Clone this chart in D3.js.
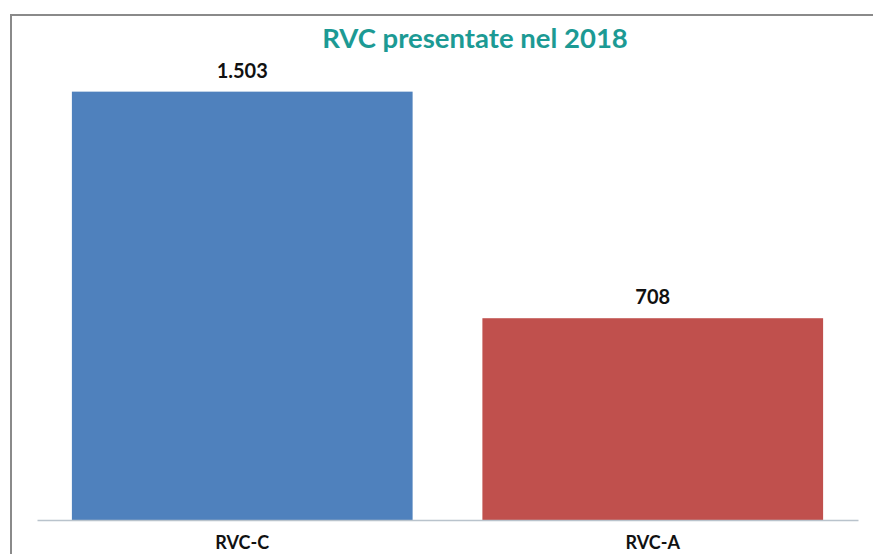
<!DOCTYPE html>
<html>
<head>
<meta charset="utf-8">
<script src="https://cdn.jsdelivr.net/npm/d3@7"></script>
<style>
  html, body { margin: 0; padding: 0; background: #fff; }
  svg { display: block; }
</style>
</head>
<body>
<script>
// Chart data
const categories = ["RVC-C", "RVC-A"];
const values = [1503, 708];
const valueLabels = ["1.503", "708"];
const barColors = ["#4f81bd", "#c0504d"];
const titleText = "RVC presentate nel 2018";

const W = 873, H = 554;
const svg = d3.select("body").append("svg").attr("width", W).attr("height", H);

// outer chart frame (continues past the right and bottom edge)
svg.append("path")
  .attr("d", `M11,${H + 5} L11,15 L${W + 5},15`)
  .attr("fill", "none")
  .attr("stroke", "#8a8a8a")
  .attr("stroke-width", 2);

const plot = { left: 37, right: 858, top: 64, bottom: 520 };

const x = d3.scaleBand()
  .domain(categories)
  .range([plot.left, plot.right])
  .paddingInner(0.17)
  .paddingOuter(0.085);

const y = d3.scaleLinear()
  .domain([0, 1600])
  .range([plot.bottom, plot.top]);

const font = "Lato, 'Open Sans', sans-serif";

// title
svg.append("text")
  .attr("x", 475)
  .attr("y", 48)
  .attr("text-anchor", "middle")
  .attr("font-family", font)
  .attr("font-weight", "bold")
  .attr("font-size", 27.5)
  .attr("fill", "#1c9a94")
  .text(titleText);

// bars
svg.selectAll("rect.bar")
  .data(values)
  .join("rect")
  .attr("class", "bar")
  .attr("x", (d, i) => x(categories[i]))
  .attr("y", d => y(d))
  .attr("width", x.bandwidth())
  .attr("height", d => y(0) - y(d))
  .attr("fill", (d, i) => barColors[i]);

// value labels
svg.selectAll("text.val")
  .data(values)
  .join("text")
  .attr("class", "val")
  .attr("x", (d, i) => x(categories[i]) + x.bandwidth() / 2)
  .attr("y", d => y(d) - 14)
  .attr("text-anchor", "middle")
  .attr("font-family", font)
  .attr("font-weight", "bold")
  .attr("font-size", 20)
  .attr("fill", "#111")
  .text((d, i) => valueLabels[i]);

// category axis
const xAxis = svg.append("g")
  .attr("transform", `translate(0,${plot.bottom})`)
  .call(d3.axisBottom(x).tickSize(0).tickPadding(0));
xAxis.select(".domain").attr("stroke", "#b9c3cc").attr("stroke-width", 1.5);
xAxis.selectAll(".tick text")
  .attr("y", 29)
  .attr("dy", 0)
  .attr("font-family", font)
  .attr("font-weight", "bold")
  .attr("font-size", 18)
  .attr("fill", "#111");
</script>
</body>
</html>
